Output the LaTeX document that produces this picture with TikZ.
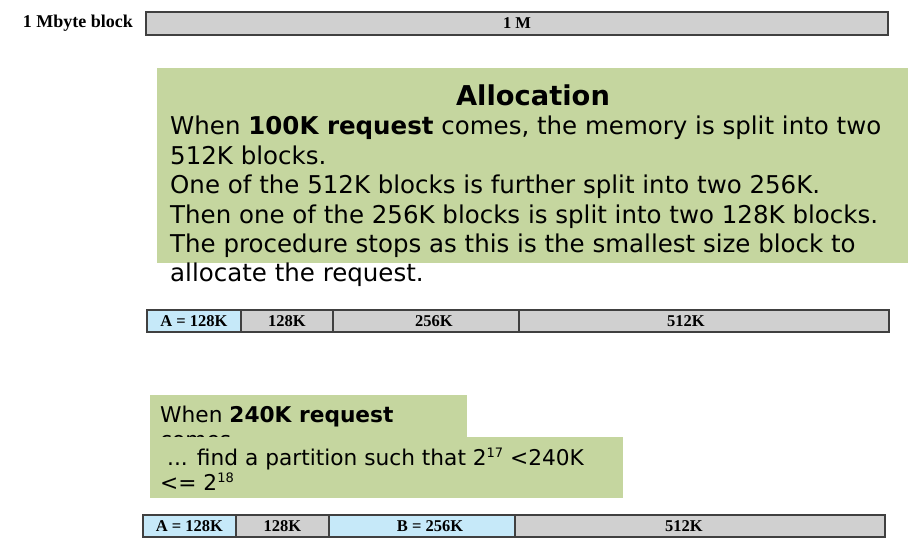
\documentclass[tikz,border=0pt]{standalone}
\usepackage{fontspec}
\setmainfont{Liberation Serif}
\newfontfamily\dejavu{DejaVu Sans}
\definecolor{notegreen}{HTML}{C5D69F}
\definecolor{usedblue}{HTML}{C6E9F9}
\definecolor{freegrey}{HTML}{D0D0D0}
\definecolor{edgegrey}{HTML}{404040}
\newcommand{\pw}[1]{{\fontsize{13}{13}\selectfont\raisebox{0.62em}{#1}}}
\begin{document}
\begin{tikzpicture}[x=1pt,y=-1pt,
  memblock/.style={draw=edgegrey,line width=1.2pt,fill=freegrey},
  usedblock/.style={draw=edgegrey,line width=1.2pt,fill=usedblue},
  blocklabel/.style={font=\fontsize{16.5}{18}\selectfont\bfseries,inner sep=0pt},
  note/.style={fill=notegreen,draw=none},
  notetext/.style={font=\dejavu\fontsize{24.5}{29.4}\selectfont,align=left,inner sep=0pt,anchor=north west}]
\useasboundingbox (0,0) rectangle (923,551);

% whole 1 MB block
\node[font=\fontsize{18}{20}\selectfont\bfseries,anchor=east,inner sep=0pt] (lbl) at (133,23) {1 Mbyte block};
\draw[memblock] (146,12) rectangle (888,35);
\node[blocklabel] (m1) at (517,23.5) {1 M};

% allocation note
\fill[note] (157,68) rectangle (908,263);
\node[font=\dejavu\fontsize{27.3}{30}\selectfont\bfseries,inner sep=0pt] (title) at (533,95) {Allocation};
\node[notetext] (body) at (170,116) {When \textbf{100K request} comes, the memory is split into two\\
512K blocks.\\
One of the 512K blocks is further split into two 256K.\\
Then one of the 256K blocks is split into two 128K blocks.\\
The procedure stops as this is the smallest size block to\\
allocate the request.};

% memory after the 100K request
\draw[usedblock] (147,310) rectangle (241,332);
\draw[memblock] (241,310) rectangle (333,332);
\draw[memblock] (333,310) rectangle (519,332);
\draw[memblock] (519,310) rectangle (889,332);
\node[blocklabel] (a1) at (194,321) {A = 128K};
\node[blocklabel] (f1) at (287,321) {128K};
\node[blocklabel] (f2) at (434,321) {256K};
\node[blocklabel] (f3) at (686,321) {512K};

% 240K request note; its second line runs under the next note
\fill[note] (150,395) rectangle (467,437);
\node[notetext,font=\dejavu\fontsize{21.7}{25}\selectfont] (req) at (160,406) {When \textbf{240K request}\\comes};
\fill[note] (150,437) rectangle (623,498);
\node[notetext,font=\dejavu\fontsize{21.7}{25}\selectfont] (find) at (160,448) {\ ... find a partition such that 2\pw{17} <240K\\
<= 2\pw{18}};

% memory after the 240K request
\draw[usedblock] (143,515) rectangle (236,537);
\draw[memblock] (236,515) rectangle (329,537);
\draw[usedblock] (329,515) rectangle (515,537);
\draw[memblock] (515,515) rectangle (885,537);
\node[blocklabel] (a2) at (189.5,526) {A = 128K};
\node[blocklabel] (f4) at (282.5,526) {128K};
\node[blocklabel] (b2) at (430,526) {B = 256K};
\node[blocklabel] (f5) at (684,526) {512K};
\end{tikzpicture}
\end{document}
